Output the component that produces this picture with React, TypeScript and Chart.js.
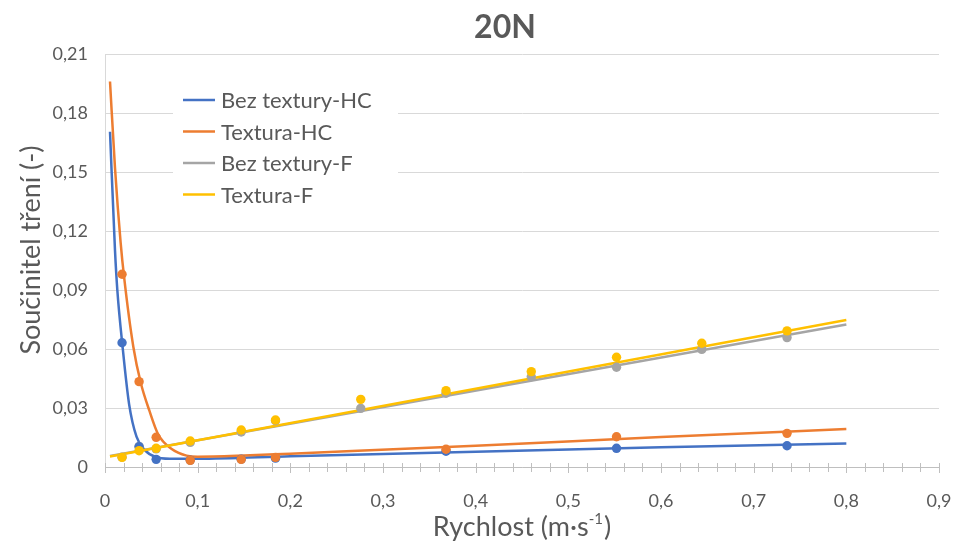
import React, { useEffect, useRef } from "react";
import { Chart, registerables } from "chart.js";

Chart.register(...registerables);

// ---------- data ----------
const chartTitle = "20N";
const yTitle = "Součinitel tření (-)";
const xTitleMain = "Rychlost (m·s";
const xTitleSup = "-1";
const xTitleEnd = ")";

const seriesNames = ["Bez textury-HC", "Textura-HC", "Bez textury-F", "Textura-F"];
const seriesColors = ["#4472C4", "#ED7D31", "#A5A5A5", "#FFC000"];

const hcSpeeds = [0.0184, 0.0368, 0.0552, 0.092, 0.147, 0.184, 0.368, 0.552, 0.736];
const fSpeeds = [0.0184, 0.0368, 0.0552, 0.092, 0.147, 0.184, 0.276, 0.368, 0.46, 0.552, 0.644, 0.736];

const bezHC = [0.0632, 0.0103, 0.0039, 0.0035, 0.004, 0.0045, 0.008, 0.0095, 0.0108];
const texHC = [0.098, 0.0434, 0.0151, 0.0034, 0.0039, 0.0049, 0.009, 0.0154, 0.0171];
const bezF = [0.005, 0.0105, 0.0092, 0.0125, 0.0178, 0.0235, 0.0298, 0.0375, 0.0459, 0.0507, 0.0598, 0.0658];
const texF = [0.0049, 0.0083, 0.0095, 0.0132, 0.0188, 0.0239, 0.0344, 0.0388, 0.0485, 0.0558, 0.0629, 0.0692];

// trend curves
const bezHCTrendX = [0.0054, 0.0108, 0.0133, 0.019, 0.026, 0.034, 0.043, 0.054, 0.07, 0.1, 0.2, 0.4, 0.6, 0.8];
const bezHCTrendY = [0.1705, 0.11, 0.09, 0.061, 0.032, 0.0154, 0.0086, 0.0052, 0.0042, 0.0042, 0.0055, 0.0078, 0.01, 0.012];
const texHCTrendX = [0.0054, 0.0108, 0.0169, 0.0205, 0.0306, 0.0385, 0.048, 0.0575, 0.072, 0.088, 0.1, 0.15, 0.2, 0.4, 0.6, 0.8];
const texHCTrendY = [0.196, 0.152, 0.114, 0.097, 0.061, 0.043, 0.0285, 0.0165, 0.0092, 0.0058, 0.0052, 0.0058, 0.0068, 0.0108, 0.0152, 0.0193];
const bezFTrendX = [0.0054, 0.8];
const bezFTrendY = [0.0056, 0.0725];
const texFTrendX = [0.0054, 0.8];
const texFTrendY = [0.0053, 0.0747];

const xTickMin = 0;
const xTickMax = 0.9;
const xTickStep = 0.1;
const xMinorStep = 0.02;
const yTickMin = 0;
const yTickMax = 0.21;
const yTickStep = 0.03;

// ---------- helpers ----------
const FONT = "Lato, 'Liberation Sans', sans-serif";
const TEXT = "#595959";

const zip = (xs: number[], ys: number[]) => xs.map((x, i) => ({ x, y: ys[i] }));
const fmt = (v: number, d: number) => (v === 0 ? "0" : v.toFixed(d).replace(".", ","));

const decorPlugin = {
  id: "decor",
  beforeDatasetsDraw(chart: any) {
    const ctx = chart.ctx;
    const xs = chart.scales.x;
    const ys = chart.scales.y;
    const axisY = ys.getPixelForValue(0);
    ctx.save();
    ctx.strokeStyle = "#bfbfbf";
    ctx.lineWidth = 1;
    const n = Math.round((xTickMax - xTickMin) / xMinorStep);
    const per = Math.round(xTickStep / xMinorStep);
    for (let i = 0; i <= n; i++) {
      const px = Math.round(xs.getPixelForValue(xTickMin + i * xMinorStep)) + 0.5;
      const major = i % per === 0;
      ctx.beginPath();
      ctx.moveTo(px, axisY - 4);
      ctx.lineTo(px, axisY + (major ? 6 : 5));
      ctx.stroke();
    }
    ctx.restore();
  },
  afterDraw(chart: any) {
    const ctx = chart.ctx;
    const area = chart.chartArea;
    ctx.save();
    // title
    ctx.fillStyle = TEXT;
    ctx.font = `bold 32px ${FONT}`;
    ctx.textAlign = "center";
    ctx.textBaseline = "middle";
    ctx.fillText(chartTitle, 505, 28);

    // y title
    ctx.save();
    ctx.translate(31, 250);
    ctx.rotate(-Math.PI / 2);
    ctx.font = `27px ${FONT}`;
    ctx.textAlign = "center";
    ctx.textBaseline = "middle";
    ctx.fillText(yTitle, 0, 0);
    ctx.restore();

    // x title with superscript
    ctx.font = `27px ${FONT}`;
    const wMain = ctx.measureText(xTitleMain).width;
    ctx.font = `15px ${FONT}`;
    const wSup = ctx.measureText(xTitleSup).width;
    ctx.font = `27px ${FONT}`;
    const wEnd = ctx.measureText(xTitleEnd).width;
    const total = wMain + wSup + 1 + wEnd;
    let x0 = (area.left + area.right) / 2 - total / 2;
    const baseY = 536;
    ctx.textAlign = "left";
    ctx.textBaseline = "alphabetic";
    ctx.fillText(xTitleMain, x0, baseY);
    x0 += wMain;
    ctx.font = `15px ${FONT}`;
    ctx.fillText(xTitleSup, x0, baseY - 12);
    x0 += wSup + 1;
    ctx.font = `27px ${FONT}`;
    ctx.fillText(xTitleEnd, x0, baseY);

    // legend
    ctx.fillStyle = "#ffffff";
    ctx.fillRect(173, 84, 225, 126);
    ctx.font = `22px ${FONT}`;
    ctx.textBaseline = "middle";
    seriesNames.forEach((name, i) => {
      const y = 100 + i * 31.5;
      ctx.strokeStyle = seriesColors[i];
      ctx.lineWidth = 2.5;
      ctx.beginPath();
      ctx.moveTo(183, y);
      ctx.lineTo(215, y);
      ctx.stroke();
      ctx.fillStyle = TEXT;
      ctx.fillText(name, 221, y + 1);
    });
    ctx.restore();
  },
};

export default function App() {
  const ref = useRef<HTMLCanvasElement | null>(null);

  useEffect(() => {
    document.body.style.margin = "0";
    const canvas = ref.current;
    if (!canvas) return;

    const pointSets = [
      { xs: hcSpeeds, ys: bezHC, order: 3 },
      { xs: hcSpeeds, ys: texHC, order: 2 },
      { xs: fSpeeds, ys: bezF, order: 4 },
      { xs: fSpeeds, ys: texF, order: 1 },
    ];
    const trendSets = [
      { xs: bezHCTrendX, ys: bezHCTrendY, order: 8 },
      { xs: texHCTrendX, ys: texHCTrendY, order: 7 },
      { xs: bezFTrendX, ys: bezFTrendY, order: 6 },
      { xs: texFTrendX, ys: texFTrendY, order: 5 },
    ];

    const datasets: any[] = [];
    trendSets.forEach((s, i) => {
      datasets.push({
        label: seriesNames[i],
        data: zip(s.xs, s.ys),
        borderColor: seriesColors[i],
        backgroundColor: seriesColors[i],
        borderWidth: 2.5,
        pointRadius: 0,
        showLine: true,
        fill: false,
        cubicInterpolationMode: "monotone",
        order: s.order,
      });
    });
    pointSets.forEach((s, i) => {
      datasets.push({
        label: seriesNames[i] + " body",
        data: zip(s.xs, s.ys),
        borderColor: seriesColors[i],
        backgroundColor: seriesColors[i],
        pointRadius: 4.7,
        pointBorderWidth: 0,
        showLine: false,
        order: s.order,
      });
    });

    const chart = new Chart(canvas, {
      type: "line",
      data: { datasets },
      plugins: [decorPlugin],
      options: {
        responsive: false,
        animation: false,
        events: [],
        layout: { padding: { top: 54, right: 16, left: 0, bottom: 0 } },
        plugins: {
          legend: { display: false },
          title: { display: false },
          tooltip: { enabled: false },
        },
        scales: {
          x: {
            type: "linear",
            min: xTickMin,
            max: xTickMax,
            grid: { display: false },
            border: { display: true, color: "#bfbfbf", width: 1 },
            ticks: {
              stepSize: xTickStep,
              padding: 15,
              color: TEXT,
              font: { family: FONT, size: 18 },
              maxRotation: 0,
              callback: (v: any) => fmt(Number(v), 1),
            },
            afterFit: (s: any) => {
              s.height = 75;
              s.paddingLeft = 0;
              s.paddingRight = 0;
            },
          },
          y: {
            type: "linear",
            min: yTickMin,
            max: yTickMax,
            grid: { display: true, color: "#d9d9d9", drawTicks: false, lineWidth: 1 },
            border: { display: true, color: "#d9d9d9", width: 1 },
            ticks: {
              stepSize: yTickStep,
              padding: 17,
              color: TEXT,
              font: { family: FONT, size: 18 },
              callback: (v: any) => fmt(Number(v), 2),
            },
            afterFit: (s: any) => {
              s.width = 105;
              s.paddingTop = 0;
              s.paddingBottom = 0;
            },
          },
        },
      } as any,
    });

    return () => chart.destroy();
  }, []);

  return (
    <div style={{ width: 955, height: 542, background: "#ffffff" }}>
      <canvas ref={ref} width={955} height={542} style={{ display: "block" }} />
    </div>
  );
}
